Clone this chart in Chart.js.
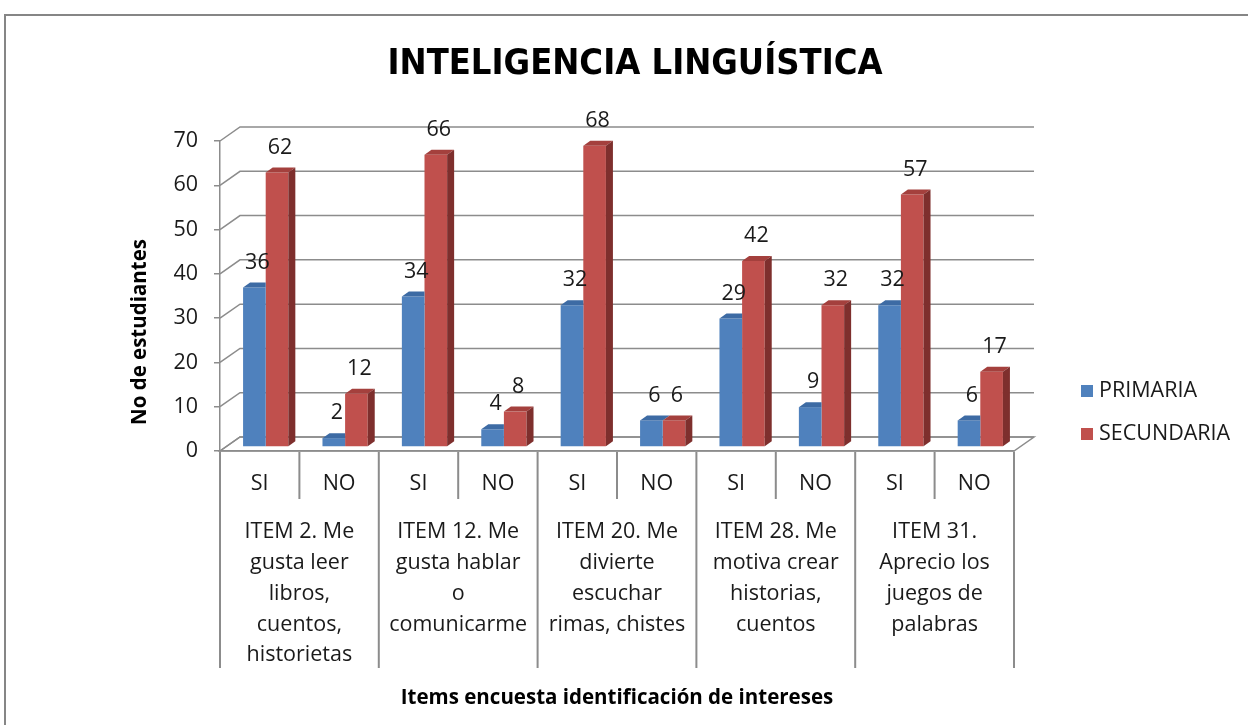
<!DOCTYPE html>
<html>
<head>
<meta charset="utf-8">
<script src="https://cdn.jsdelivr.net/npm/chart.js@4.4.1/dist/chart.umd.min.js"></script>
<style>
  html, body { margin: 0; padding: 0; background: #fff; }
</style>
</head>
<body>
<canvas id="chart" width="1248" height="725"></canvas>
<script>
const answers = ["SI", "NO", "SI", "NO", "SI", "NO", "SI", "NO", "SI", "NO"];
const items = [
  ["ITEM 2. Me", "gusta leer", "libros,", "cuentos,", "historietas"],
  ["ITEM 12. Me", "gusta hablar", "o", "comunicarme"],
  ["ITEM 20. Me", "divierte", "escuchar", "rimas, chistes"],
  ["ITEM 28. Me", "motiva crear", "historias,", "cuentos"],
  ["ITEM 31.", "Aprecio los", "juegos de", "palabras"],
];
const primaria = [36, 2, 34, 4, 32, 6, 29, 9, 32, 6];
const secundaria = [62, 12, 66, 8, 68, 6, 42, 32, 57, 17];
const y_max = 70;
const y_step = 10;

const chart_title = "INTELIGENCIA LINGUÍSTICA";
const y_title = "No de estudiantes";
const x_title = "Items encuesta identificación de intereses";

const front_colors = ["#4F81BD", "#C0504D"];
const top_colors = ["#3D6BA4", "#A4403D"];
const side_colors = ["#375D8B", "#7E2F2D"];
const grid_color = "#8c8c8c";
const text_font = '"Open Sans", "Noto Sans", sans-serif';
const text_size = 21.5;

// 3D look: back wall offset, bar offset inside the box, bar depth
const wall = { x: 20, y: -14 };
const shift = { x: 6, y: -4 };
const cap = { x: 7, y: -5 };

function face(ctx, pts, color) {
  ctx.beginPath();
  ctx.moveTo(pts[0][0], pts[0][1]);
  for (let i = 1; i < pts.length; i++) ctx.lineTo(pts[i][0], pts[i][1]);
  ctx.closePath();
  ctx.fillStyle = color;
  ctx.fill();
}

const box3d = {
  id: "box3d",
  beforeDraw(chart) {
    const ctx = chart.ctx;
    ctx.save();
    ctx.fillStyle = "#fff";
    ctx.fillRect(0, 0, chart.width, chart.height);
    ctx.strokeStyle = "#868686";
    ctx.lineWidth = 2;
    ctx.beginPath();
    ctx.moveTo(5, chart.height);
    ctx.lineTo(5, 15);
    ctx.lineTo(chart.width, 15);
    ctx.stroke();
    ctx.restore();
  },
  beforeDatasetsDraw(chart) {
    const { ctx, chartArea: a, scales: { y } } = chart;
    ctx.save();
    ctx.strokeStyle = grid_color;
    ctx.lineWidth = 1.5;
    // floor
    ctx.beginPath();
    ctx.moveTo(a.left, a.bottom);
    ctx.lineTo(a.right, a.bottom);
    ctx.lineTo(a.right + wall.x, a.bottom + wall.y);
    ctx.lineTo(a.left + wall.x, a.bottom + wall.y);
    ctx.closePath();
    ctx.stroke();
    // back wall grid lines
    ctx.beginPath();
    y.ticks.forEach((t) => {
      const py = y.getPixelForValue(t.value);
      ctx.moveTo(a.left, py);
      ctx.lineTo(a.left + wall.x, py + wall.y);
      ctx.lineTo(a.right + wall.x, py + wall.y);
    });
    ctx.stroke();
    ctx.restore();
    // bars sit a bit inside the box
    ctx.save();
    ctx.translate(shift.x, shift.y);
  },
  afterDatasetsDraw(chart) {
    const ctx = chart.ctx;
    ctx.restore();
    const m0 = chart.getDatasetMeta(0);
    const m1 = chart.getDatasetMeta(1);
    ctx.save();
    ctx.translate(shift.x, shift.y);
    m0.data.forEach((bar, i) => {
      const b = bar.getProps(["x", "y", "width"], true);
      const r = m1.data[i].getProps(["x", "y", "width", "base"], true);
      const l = b.x - b.width / 2, rt = b.x + b.width / 2;
      ctx.save();
      ctx.beginPath();
      ctx.rect(-5000, -5000, 10000, 10000);
      ctx.rect(r.x - r.width / 2, r.y, r.width, r.base - r.y);
      ctx.clip("evenodd");
      face(ctx, [[l, b.y], [rt, b.y], [rt + cap.x, b.y + cap.y], [l + cap.x, b.y + cap.y]], top_colors[0]);
      ctx.restore();
    });
    m1.data.forEach((bar) => {
      const b = bar.getProps(["x", "y", "width", "base"], true);
      const l = b.x - b.width / 2, rt = b.x + b.width / 2;
      face(ctx, [[l, b.y], [rt, b.y], [rt + cap.x, b.y + cap.y], [l + cap.x, b.y + cap.y]], top_colors[1]);
      face(ctx, [[rt, b.y], [rt + cap.x, b.y + cap.y], [rt + cap.x, b.base + cap.y], [rt, b.base]], side_colors[1]);
    });
    // value labels
    ctx.font = text_size + "px " + text_font;
    ctx.fillStyle = "#1a1a1a";
    ctx.textAlign = "center";
    ctx.textBaseline = "middle";
    [m0, m1].forEach((meta, d) => {
      meta.data.forEach((bar, i) => {
        const b = bar.getProps(["x", "y"], true);
        ctx.fillText(String(chart.data.datasets[d].data[i]), b.x + 3, b.y - 25);
      });
    });
    ctx.restore();
  },
  afterDraw(chart) {
    const { ctx, chartArea: a, scales: { x } } = chart;
    ctx.save();
    // separators under the floor
    ctx.strokeStyle = grid_color;
    ctx.lineWidth = 2;
    ctx.beginPath();
    for (let i = 0; i <= answers.length; i++) {
      let px;
      if (i === 0) px = a.left;
      else if (i === answers.length) px = a.right;
      else px = (x.getPixelForValue(i - 1) + x.getPixelForValue(i)) / 2;
      const len = i % 2 === 0 ? 216 : 47;
      ctx.moveTo(px, a.bottom + 1);
      ctx.lineTo(px, a.bottom + 1 + len);
    }
    ctx.stroke();
    // y title
    ctx.translate(140, 332);
    ctx.rotate(-Math.PI / 2);
    ctx.font = "bold 20.5px " + text_font;
    ctx.fillStyle = "#000";
    ctx.textAlign = "center";
    ctx.textBaseline = "middle";
    ctx.fillText(y_title, 0, 0);
    ctx.restore();
    // legend
    ctx.save();
    ctx.font = text_size + "px " + text_font;
    ctx.textBaseline = "middle";
    ctx.textAlign = "left";
    chart.data.datasets.forEach((ds, i) => {
      const ly = 391 + i * 43;
      ctx.fillStyle = ds.backgroundColor;
      ctx.fillRect(1081, ly - 6, 12, 12);
      ctx.fillStyle = "#1a1a1a";
      ctx.fillText(ds.label, 1099, ly);
    });
    ctx.restore();
  },
};

Chart.defaults.color = "#1a1a1a";

new Chart(document.getElementById("chart"), {
  type: "bar",
  data: {
    labels: answers,
    datasets: [
      { label: "PRIMARIA", data: primaria, backgroundColor: front_colors[0], borderWidth: 0 },
      { label: "SECUNDARIA", data: secundaria, backgroundColor: front_colors[1], borderWidth: 0 },
    ],
  },
  options: {
    responsive: false,
    animation: false,
    layout: { padding: { left: 22, right: 0, top: 0, bottom: 8 } },
    datasets: { bar: { categoryPercentage: 0.57, barPercentage: 1 } },
    plugins: {
      legend: { display: false },
      tooltip: { enabled: false },
      title: {
        display: true,
        text: chart_title,
        color: "#000",
        font: { family: '"Liberation Sans Narrow", "DejaVu Sans Condensed", "Open Sans", sans-serif', size: 36, weight: "bold" },
        padding: { top: 43, bottom: 54.8 },
      },
    },
    scales: {
      y: {
        min: 0,
        max: y_max,
        ticks: { stepSize: y_step, padding: 16, font: { family: text_font, size: text_size } },
        grid: { drawOnChartArea: false, tickLength: 6, color: grid_color, lineWidth: 1.5 },
        border: { display: true, color: grid_color, width: 1.5 },
        afterFit(s) { s.width = 198; },
      },
      right_space: {
        type: "linear",
        position: "right",
        ticks: { display: false },
        grid: { display: false },
        border: { display: false },
        afterFit(s) { s.width = 234; },
      },
      x: {
        ticks: { padding: 12, autoSkip: false, maxRotation: 0, minRotation: 0, font: { family: text_font, size: text_size } },
        grid: { display: false },
        border: { display: true, color: grid_color, width: 1.5 },
        afterFit(s) { s.height = 62; },
      },
      x2: {
        type: "category",
        labels: items,
        offset: true,
        position: "bottom",
        ticks: { padding: -4, autoSkip: false, maxRotation: 0, minRotation: 0, font: { family: text_font, size: text_size, lineHeight: 1.43 } },
        grid: { display: false },
        border: { display: false },
        title: {
          display: true,
          text: x_title,
          color: "#000",
          font: { family: text_font, size: 20.5, weight: "bold" },
          padding: { top: 4, bottom: 7 },
        },
        afterFit(s) { s.height = 204; },
      },
    },
  },
  plugins: [box3d],
});
</script>
</body>
</html>
